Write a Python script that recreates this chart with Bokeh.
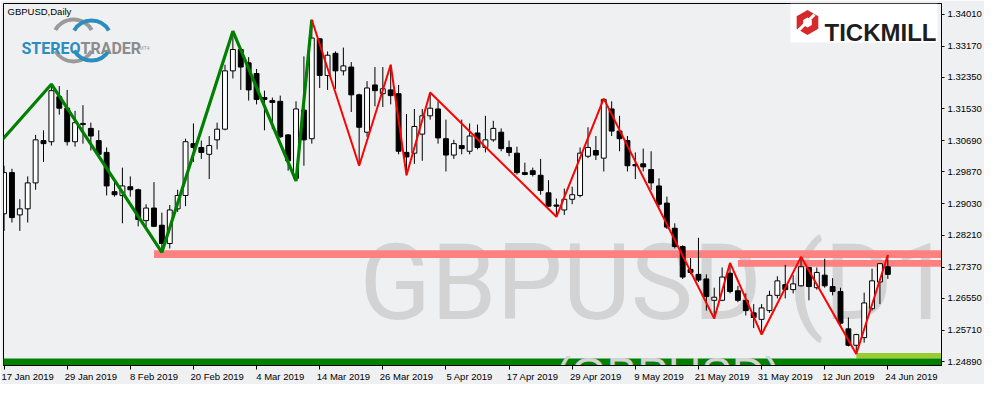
import math
from bokeh.plotting import figure
from bokeh.models import Range1d, FixedTicker, PrintfTickFormatter, ColumnDataSource
from bokeh.core.properties import value
from bokeh.embed import file_html
from bokeh.resources import INLINE

# ---------------- data ----------------
date_labels = ["17 Jan 2019", "29 Jan 2019", "8 Feb 2019", "20 Feb 2019", "4 Mar 2019",
               "14 Mar 2019", "26 Mar 2019", "5 Apr 2019", "17 Apr 2019", "29 Apr 2019",
               "9 May 2019", "21 May 2019", "31 May 2019", "12 Jun 2019", "24 Jun 2019"]
date_label_bars = [0, 8, 16, 24, 32, 40, 48, 56, 64, 72, 80, 88, 96, 104, 112]
price_ticks = [1.24890, 1.25710, 1.26550, 1.27370, 1.28210, 1.29030,
               1.29870, 1.30690, 1.31530, 1.32350, 1.33170, 1.34010]

opens = [1.2877, 1.2985, 1.2874, 1.2890, 1.2958, 1.3069, 1.3066, 1.3184, 1.3154, 1.3066,
         1.3111, 1.3101, 1.3069, 1.3038, 1.2935, 1.2925, 1.2948, 1.2940, 1.2859, 1.2892,
         1.2847, 1.2799, 1.2890, 1.2925, 1.3061, 1.3051, 1.3033, 1.3071, 1.3099, 1.3252,
         1.3308, 1.3273, 1.3245, 1.3182, 1.3174, 1.3172, 1.3084, 1.2970, 1.3149, 1.3074,
         1.3336, 1.3240, 1.3298, 1.3252, 1.3262, 1.3189, 1.3091, 1.3215, 1.3192, 1.3202,
         1.3192, 1.3038, 1.3036, 1.3086, 1.3134, 1.3152, 1.3074, 1.3031, 1.3056, 1.3041,
         1.3089, 1.3051, 1.3071, 1.3091, 1.3051, 1.3036, 1.2985, 1.2990, 1.2978, 1.2932,
         1.2900, 1.2887, 1.2915, 1.2925, 1.3028, 1.3043, 1.3023, 1.3152, 1.3094, 1.3069,
         1.3006, 1.3008, 1.2993, 1.2950, 1.2905, 1.2839, 1.2791, 1.2731, 1.2718, 1.2706,
         1.2650, 1.2650, 1.2721, 1.2675, 1.2650, 1.2617, 1.2600, 1.2623, 1.2663, 1.2691,
         1.2678, 1.2688, 1.2736, 1.2683, 1.2716, 1.2686, 1.2673, 1.2575, 1.2532, 1.2552,
         1.2628, 1.2698, 1.2738]
highs = [1.3003, 1.2995, 1.2915, 1.2975, 1.3084, 1.3096, 1.3217, 1.3212, 1.3202, 1.3147,
         1.3162, 1.3116, 1.3096, 1.3051, 1.2963, 1.2998, 1.2975, 1.2943, 1.2902, 1.2960,
         1.2880, 1.2900, 1.2940, 1.3074, 1.3114, 1.3069, 1.3081, 1.3116, 1.3268, 1.3356,
         1.3310, 1.3288, 1.3257, 1.3200, 1.3182, 1.3187, 1.3086, 1.3172, 1.3290, 1.3386,
         1.3338, 1.3303, 1.3303, 1.3313, 1.3275, 1.3192, 1.3225, 1.3262, 1.3262, 1.3268,
         1.3215, 1.3139, 1.3152, 1.3152, 1.3195, 1.3172, 1.3124, 1.3071, 1.3124, 1.3114,
         1.3111, 1.3134, 1.3121, 1.3101, 1.3069, 1.3053, 1.3011, 1.2998, 1.3021, 1.2965,
         1.2917, 1.2943, 1.2948, 1.3051, 1.3104, 1.3081, 1.3179, 1.3172, 1.3134, 1.3081,
         1.3038, 1.3048, 1.3041, 1.2970, 1.2922, 1.2852, 1.2794, 1.2761, 1.2814, 1.2718,
         1.2683, 1.2736, 1.2748, 1.2688, 1.2668, 1.2640, 1.2640, 1.2675, 1.2713, 1.2743,
         1.2716, 1.2764, 1.2738, 1.2736, 1.2759, 1.2708, 1.2683, 1.2605, 1.2562, 1.2670,
         1.2733, 1.2748, 1.2769]
lows = [1.2832, 1.2854, 1.2832, 1.2854, 1.2940, 1.3013, 1.3056, 1.3137, 1.3056, 1.3053,
        1.3061, 1.3043, 1.3028, 1.2925, 1.2922, 1.2852, 1.2922, 1.2844, 1.2844, 1.2842,
        1.2776, 1.2786, 1.2882, 1.2897, 1.3013, 1.3021, 1.2968, 1.3046, 1.3096, 1.3232,
        1.3202, 1.3174, 1.3164, 1.3096, 1.3099, 1.3076, 1.2990, 1.2963, 1.3003, 1.3061,
        1.3207, 1.3202, 1.3205, 1.3240, 1.3144, 1.3003, 1.3079, 1.3159, 1.3157, 1.3164,
        1.3033, 1.2978, 1.3008, 1.3016, 1.3124, 1.3061, 1.2988, 1.3021, 1.3033, 1.3033,
        1.3046, 1.3038, 1.3066, 1.3041, 1.3028, 1.2980, 1.2978, 1.2975, 1.2927, 1.2895,
        1.2869, 1.2874, 1.2902, 1.2920, 1.3023, 1.3018, 1.2988, 1.3081, 1.3041, 1.2988,
        1.2968, 1.2988, 1.2940, 1.2895, 1.2837, 1.2786, 1.2706, 1.2718, 1.2698, 1.2623,
        1.2602, 1.2648, 1.2668, 1.2645, 1.2610, 1.2577, 1.2560, 1.2617, 1.2655, 1.2655,
        1.2668, 1.2686, 1.2650, 1.2678, 1.2683, 1.2663, 1.2585, 1.2529, 1.2509, 1.2539,
        1.2623, 1.2640, 1.2706]
closes = [1.2985, 1.2867, 1.2890, 1.2958, 1.3071, 1.3061, 1.3200, 1.3154, 1.3066, 1.3116,
          1.3114, 1.3081, 1.3033, 1.2950, 1.2927, 1.2950, 1.2940, 1.2862, 1.2892, 1.2844,
          1.2799, 1.2887, 1.2925, 1.3066, 1.3051, 1.3038, 1.3056, 1.3099, 1.3252, 1.3308,
          1.3262, 1.3202, 1.3177, 1.3177, 1.3169, 1.3079, 1.3016, 1.3152, 1.3071, 1.3338,
          1.3240, 1.3293, 1.3252, 1.3265, 1.3189, 1.3104, 1.3207, 1.3200, 1.3205, 1.3187,
          1.3041, 1.3026, 1.3106, 1.3134, 1.3154, 1.3076, 1.3031, 1.3061, 1.3048, 1.3081,
          1.3051, 1.3071, 1.3101, 1.3048, 1.3038, 1.2985, 1.2980, 1.2980, 1.2938, 1.2897,
          1.2897, 1.2915, 1.2927, 1.3036, 1.3051, 1.3031, 1.3177, 1.3094, 1.3074, 1.3003,
          1.3003, 1.3000, 1.2958, 1.2902, 1.2842, 1.2791, 1.2711, 1.2723, 1.2703, 1.2660,
          1.2658, 1.2711, 1.2673, 1.2650, 1.2623, 1.2605, 1.2630, 1.2663, 1.2701, 1.2678,
          1.2693, 1.2738, 1.2686, 1.2723, 1.2688, 1.2673, 1.2590, 1.2532, 1.2560, 1.2643,
          1.2701, 1.2746, 1.2718]

# zigzag pivots (bar index, price)
green_bars = [-1, 6, 20, 29, 37, 39]
green_prices = [1.3053, 1.3217, 1.2776, 1.3356, 1.2963, 1.3386]
red_bars = [39, 45, 49, 51, 54, 70, 76, 90, 92, 96, 101, 108, 112]
red_prices = [1.3386, 1.3003, 1.3268, 1.2978, 1.3195, 1.2869, 1.3179,
              1.2602, 1.2748, 1.2560, 1.2764, 1.2509, 1.2769]

# horizontal zones
zone_start = [19, 93, 108, -1]
zone_top = [1.2781, 1.2756, 1.2512, 1.2497]
zone_bottom = [1.2761, 1.2738, 1.2497, 1.2478]
zone_color = ["#FF8080", "#FF8080", "#9ACD32", "#008000"]

# ---------------- figure ----------------
BG = "#EFF0F2"
W, H = 984, 384
X0, X1 = -0.07, 118.8
Y0, Y1 = 1.24789, 1.34287
FW, FH = 938, 363

p = figure(width=W, height=H, output_backend="svg", toolbar_location=None,
           x_range=Range1d(X0, X1), y_range=Range1d(Y0, Y1),
           y_axis_location="right", min_border_left=3, min_border_top=3,
           min_border_right=0, min_border_bottom=0)
p.extra_x_ranges = {"px": Range1d(0, FW)}
p.extra_y_ranges = {"px": Range1d(FH, 0)}
p.background_fill_color = BG
p.border_fill_color = BG
p.outline_line_color = "#000000"
p.outline_line_width = 1
p.xgrid.grid_line_color = None
p.ygrid.grid_line_color = None

FONT = "Liberation Sans"

xa = p.xaxis[0]
xa.ticker = FixedTicker(ticks=[b + 3 for b in date_label_bars], minor_ticks=date_label_bars)
xa.major_label_overrides = {b + 3: lab for b, lab in zip(date_label_bars, date_labels)}
xa.major_tick_line_color = None
xa.major_tick_out = 4
xa.major_tick_in = 0
xa.minor_tick_in = 0
xa.minor_tick_out = 4
xa.minor_tick_line_color = "#000000"
xa.axis_line_color = "#000000"
xa.major_label_standoff = 1
xa.major_label_text_font = FONT
xa.major_label_text_font_size = "9.5px"
xa.major_label_text_color = "#000000"

ya = p.yaxis[0]
ya.ticker = FixedTicker(ticks=price_ticks, minor_ticks=[])
ya.formatter = PrintfTickFormatter(format="%.5f")
ya.major_tick_out = 3
ya.major_tick_in = 0
ya.minor_tick_out = 0
ya.minor_tick_in = 0
ya.major_tick_line_color = "#000000"
ya.axis_line_color = "#000000"
ya.major_label_standoff = 3
ya.major_label_text_font = FONT
ya.major_label_text_font_size = "9.5px"
ya.major_label_text_color = "#000000"

# big watermark
p.text(x=[356], y=[281], text=["GBPUSD (D1"], x_range_name="px", y_range_name="px",
       text_font=value("Roboto"), text_font_size=value("105px"),
       text_color="#D3D3D3", text_baseline="alphabetic", text_align="left")

# zones
zsrc = ColumnDataSource(dict(left=zone_start, right=[X1 + 5] * len(zone_start),
                             top=zone_top, bottom=zone_bottom, color=zone_color))
p.quad(left="left", right="right", top="top", bottom="bottom", fill_color="color",
       line_color=None, source=zsrc)

# bottom watermark (mostly below the frame, only its top shows)
p.text(x=[552], y=[FH - 18], text=["(GBPUSD)"], x_range_name="px", y_range_name="px",
       text_font=value(FONT), text_font_size=value("46px"),
       text_color="#D3D3D3", text_baseline="top", text_align="left")

# candles
bars = list(range(len(opens)))
csrc = ColumnDataSource(dict(
    x=bars, o=opens, h=highs, l=lows, c=closes,
    top=[max(a, b) for a, b in zip(opens, closes)],
    bottom=[min(a, b) for a, b in zip(opens, closes)],
    fill=["#FFFFFF" if c >= o else "#000000" for o, c in zip(opens, closes)]))
p.segment(x0="x", y0="h", x1="x", y1="l", line_color="#000000", line_width=1, source=csrc)
p.vbar(x="x", width=0.62, top="top", bottom="bottom", fill_color="fill",
       line_color="#000000", line_width=1, source=csrc)

# zigzags
p.line(green_bars, green_prices, line_color="#008000", line_width=3.2)
p.line(red_bars, red_prices, line_color="#FF0000", line_width=2)

# chart caption
p.text(x=[4], y=[3], text=["GBPUSD,Daily"], x_range_name="px", y_range_name="px",
       text_font=value(FONT), text_font_size=value("9.5px"), text_color="#000000",
       text_baseline="top", text_align="left")

# StereoTrader logo
a30, a150, a210, a330 = [math.radians(v) for v in (30, 150, 210, 330)]
p.arc(x=[70, 70], y=[37, 37], radius=21, start_angle=[a30, a210], end_angle=[a150, a330],
      x_range_name="px", y_range_name="px", line_color="#9A9A9A", line_width=4)
p.arc(x=[88, 88], y=[37, 37], radius=20, start_angle=[a30, a210], end_angle=[a150, a330],
      x_range_name="px", y_range_name="px", line_color="#2B8CBE", line_width=4)
p.text(x=[77], y=[45], text=["STEREO"], x_range_name="px", y_range_name="px",
       text_font=value("Roboto"), text_font_size=value("16px"),
       text_font_style="bold", text_color="#2B8CBE", text_baseline="alphabetic",
       text_align="right")
p.text(x=[77], y=[45], text=["TRADER"], x_range_name="px", y_range_name="px",
       text_font=value("Roboto"), text_font_size=value("16px"),
       text_font_style="bold", text_color="#8C8C8C", text_baseline="alphabetic",
       text_align="left")
p.text(x=[136], y=[45], text=["MT4"], x_range_name="px", y_range_name="px",
       text_font=value(FONT), text_font_size=value("5px"), text_color="#9A9A9A",
       text_baseline="alphabetic", text_align="left")

# Tickmill logo
p.quad(left=[FW - 151], right=[FW - 4], top=[0], bottom=[39], x_range_name="px",
       y_range_name="px", fill_color="#FFFFFF", line_color=None)
p.scatter(x=[FW - 134], y=[19], marker="hex", size=25, angle=math.radians(90),
          x_range_name="px", y_range_name="px", fill_color="#D42A2A", line_color=None)
p.scatter(x=[FW - 134], y=[19], marker="hex", size=10, angle=math.radians(90),
          x_range_name="px", y_range_name="px", fill_color="#FFFFFF", line_color=None)
p.segment(x0=[FW - 143], y0=[27], x1=[FW - 127], y1=[11], x_range_name="px",
          y_range_name="px", line_color="#FFFFFF", line_width=3)
p.text(x=[FW - 117], y=[29], text=["TICKMILL"], x_range_name="px", y_range_name="px",
       text_font=value(FONT), text_font_size=value("24px"), text_font_style="bold",
       text_color="#1E1E1E", text_baseline="alphabetic", text_align="left")

open("out.html", "w").write(file_html(p, INLINE))
